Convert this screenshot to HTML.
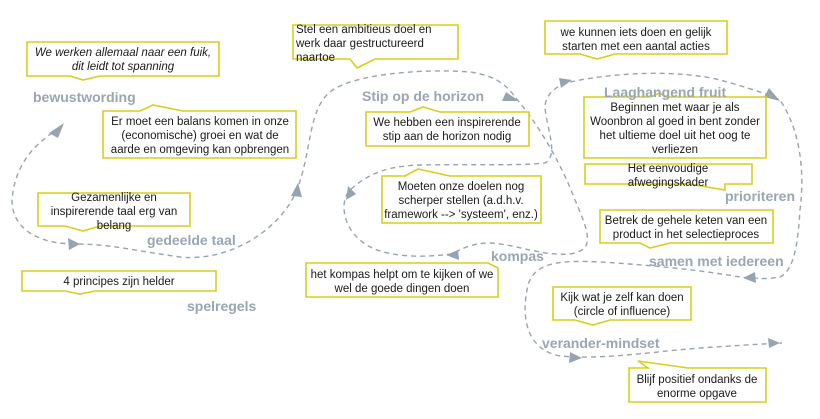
<!DOCTYPE html>
<html><head><meta charset="utf-8"><style>
html,body{margin:0;padding:0;background:#fff;}
svg{display:block;font-family:"Liberation Sans",Arial,sans-serif;}
.b{fill:#fff;stroke:#d6cf1e;stroke-width:1.6;}
.t{font-size:11.5px;fill:#1a1a1a;text-anchor:middle;}
.h{font-size:14px;font-weight:bold;fill:#9aa6b2;}
.d{fill:none;stroke:#97a4b0;stroke-width:1.4;stroke-dasharray:5,4;}
.a{fill:#97a4b0;}
</style></head><body>
<svg width="820" height="419" viewBox="0 0 820 419">
<path class="d" d="M60,128 C40,140 15,160 12,200 C12,230 40,244 75,244 C110,244 130,250 180,257 C230,262 280,230 297,190 C312,150 308,110 330,92 C350,75 420,68 470,72 C500,76 510,90 515,97 C535,120 560,160 575,200 C590,235 595,250 570,254 C540,256 520,245 490,243 C470,243 460,250 452,254"/>
<path class="d" d="M452,254 C420,258 380,258 360,240 C342,225 340,200 350,190 C370,172 390,166 420,165 C470,164 520,166 545,163 C560,155 545,125 545,105 C548,90 560,84 575,81 C620,72 680,70 720,80 C750,88 775,97 780,100 C800,130 805,170 800,210 C798,240 795,270 780,277 C765,280 750,278 740,277 C700,270 650,265 600,262 C560,260 535,262 528,285 C520,320 528,350 560,356 C600,360 650,352 700,348 C730,346 760,344 782,343"/>
<polygon class="a" points="64,123 49,133 58,138"/>
<polygon class="a" points="80,244 68,238 69,250"/>
<polygon class="a" points="298,183 291,196 302,197"/>
<polygon class="a" points="519,101 506,92 502,101"/>
<polygon class="a" points="446,255 458,250 459,260"/>
<polygon class="a" points="348,186 346,200 356,194"/>
<polygon class="a" points="572,80 559,78 561,88"/>
<polygon class="a" points="780,101 769,88 764,97"/>
<polygon class="a" points="743,278 755,272 756,283"/>
<polygon class="a" points="582,358 570,352 569,363"/>
<polygon class="a" points="780,343 768,338 769,348"/>
<path class="b" d="M27,42 H219 V76 H100 L83,80 L70,76 H27 Z"/>
<path class="b" d="M103,111 H140 L153,105 L183,111 H296 V158 H103 Z"/>
<path class="b" d="M293,25 H458 V59 H375 L357,68 L350,59 H293 Z"/>
<path class="b" d="M366,112 H410 L423,107 L440,112 H529 V146 H366 Z"/>
<path class="b" d="M382,176 H405 L418,169 L450,176 H541 V223 H382 Z"/>
<path class="b" d="M38,193 H190 V226 H100 L83,231 L65,226 H38 Z"/>
<path class="b" d="M22,271 H216 V291 H95 L80,294 L65,291 H22 Z"/>
<path class="b" d="M306,263 H488 L498,268 L498,297 H306 Z"/>
<path class="b" d="M545,21 H727 V54 H615 L597,59 L580,54 H545 Z"/>
<path class="b" d="M584,97 H650 L660,93 L665,97 H766 V158 H584 Z"/>
<path class="b" d="M585,164 H752 V184 H725 V190 L690,184 H585 Z"/>
<path class="b" d="M600,210 H773 V243 H670 L650,248 L640,243 H600 Z"/>
<path class="b" d="M553,287 H691 V320 H610 L593,325 L575,320 H553 Z"/>
<path class="b" d="M629,368 H648 L638,361 L688,368 H766 V402 H629 Z"/>
<text class="h" x="33" y="102">bewustwording</text>
<text class="h" x="362" y="101">Stip op de horizon</text>
<text class="h" x="147" y="245">gedeelde taal</text>
<text class="h" x="187" y="311">spelregels</text>
<text class="h" x="491" y="261">kompas</text>
<text class="h" x="604" y="97">Laaghangend fruit</text>
<text class="h" x="725" y="201">prioriteren</text>
<text class="h" x="649" y="266">samen met iedereen</text>
<text class="h" x="542" y="348">verander-mindset</text>
<text class="t" x="123" y="56" font-style="italic">We werken allemaal naar een fuik,</text>
<text class="t" x="123" y="70" font-style="italic">dit leidt tot spanning</text>
<text class="t" x="200" y="125">Er moet een balans komen in onze</text>
<text class="t" x="200" y="139">(economische) groei en wat de</text>
<text class="t" x="200" y="153">aarde en omgeving kan opbrengen</text>
<text class="t" x="296" y="33" style="text-anchor:start">Stel een ambitieus doel en</text>
<text class="t" x="296" y="47" style="text-anchor:start">werk daar gestructureerd</text>
<text class="t" x="296" y="61" style="text-anchor:start">naartoe</text>
<text class="t" x="447" y="126">We hebben een inspirerende</text>
<text class="t" x="447" y="140">stip aan de horizon nodig</text>
<text class="t" x="461" y="190">Moeten onze doelen nog</text>
<text class="t" x="461" y="204">scherper stellen (a.d.h.v.</text>
<text class="t" x="461" y="218">framework --&gt; 'systeem', enz.)</text>
<text class="t" x="114" y="201">Gezamenlijke en</text>
<text class="t" x="114" y="215">inspirerende taal erg van</text>
<text class="t" x="114" y="229">belang</text>
<text class="t" x="119" y="285">4 principes zijn helder</text>
<text class="t" x="402" y="278">het kompas helpt om te kijken of we</text>
<text class="t" x="402" y="292">wel de goede dingen doen</text>
<text class="t" x="636" y="36">we kunnen iets doen en gelijk</text>
<text class="t" x="636" y="50">starten met een aantal acties</text>
<text class="t" x="675" y="111">Beginnen met waar je als</text>
<text class="t" x="675" y="125">Woonbron al goed in bent zonder</text>
<text class="t" x="675" y="139">het ultieme doel uit het oog te</text>
<text class="t" x="675" y="153">verliezen</text>
<text class="t" x="668" y="172">Het eenvoudige</text>
<text class="t" x="668" y="186">afwegingskader</text>
<text class="t" x="686" y="224">Betrek de gehele keten van een</text>
<text class="t" x="686" y="238">product in het selectieproces</text>
<text class="t" x="622" y="301">Kijk wat je zelf kan doen</text>
<text class="t" x="622" y="315">(circle of influence)</text>
<text class="t" x="697" y="383">Blijf positief ondanks de</text>
<text class="t" x="697" y="397">enorme opgave</text>
</svg>
</body></html>
